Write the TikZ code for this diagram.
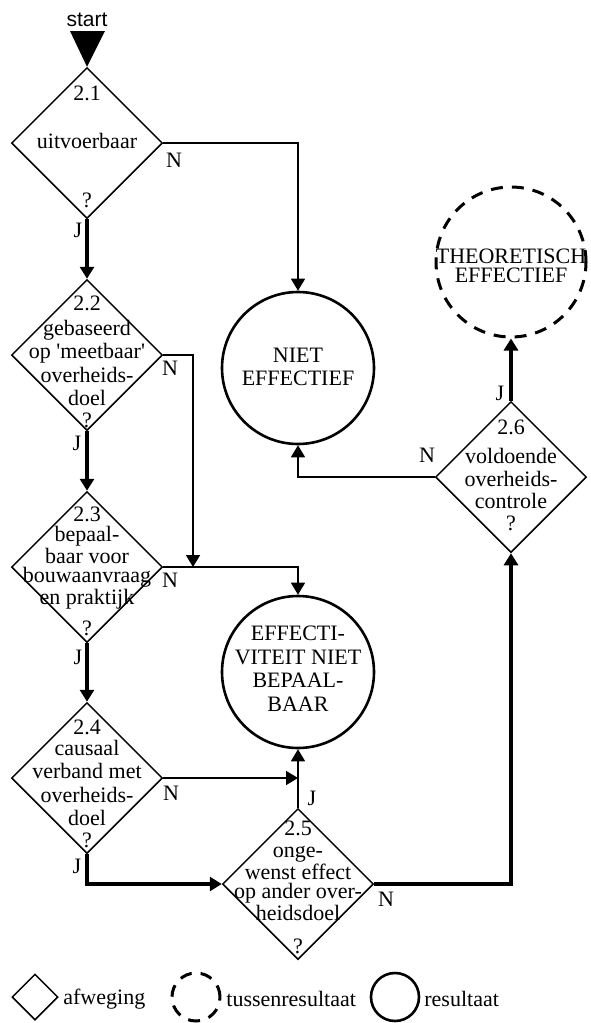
\documentclass[tikz,border=0pt]{standalone}
\usepackage{fontspec}
\setmainfont{Liberation Serif}
\newfontfamily\startfont{Liberation Sans}
\usetikzlibrary{arrows.meta,shapes.geometric,positioning}
\definecolor{ink}{HTML}{000000}

\begin{document}
\begin{tikzpicture}[x=.5pt,y=-.5pt,
  txt/.style={text=ink,font=\fontsize{11}{11.75}\selectfont,align=center,inner sep=0pt},
  block/.style={txt,execute at begin node={\vphantom{Hb}},execute at end node={\vphantom{g}}},
  tight/.style={font=\fontsize{11}{9.5}\selectfont},
  lbl/.style={text=ink,font=\fontsize{11}{12}\selectfont,inner sep=0pt},
  keuze/.style={shape=diamond,draw=ink,line width=.75pt,minimum width=75.5pt,
    minimum height=75.5pt,inner sep=0pt},
  eind/.style={shape=circle,draw=ink,line width=1.3pt,minimum size=76pt,inner sep=0pt},
  tussen/.style={shape=circle,draw=ink,line width=1.5pt,dash pattern=on 6pt off 4.5pt,
    minimum size=75pt,inner sep=0pt},
  nee/.style={draw=ink,line width=.85pt,-{Triangle[length=6pt,width=7pt]}},
  ja/.style={draw=ink,line width=2pt,-{Triangle[length=6pt,width=7pt]}}
]
\useasboundingbox (0,0) rectangle (590,1023);
% afwegingen
\node[keuze] (d21) at (87,143) {};
\node[keuze] (d22) at (87,355) {};
\node[keuze] (d23) at (87,567) {};
\node[keuze] (d24) at (87,778) {};
\node[keuze] (d25) at (298,884) {};
\node[keuze] (d26) at (511,477) {};
% resultaten
\node[eind] (rNiet) at (298,368) {};
\node[eind] (rBepaal) at (298,672) {};
\node[tussen] (rTheo) at (511,262) {};
% start
\node[text=ink,font=\startfont\fontsize{10.5}{12}\selectfont,inner sep=0pt] (start) at (87,20) {start};
\fill[ink] (70,31) -- (105,31) -- (d21.north) -- cycle;
% teksten in de ruiten
\node[txt] (n21) at (87,93) {2.1};
\node[block] (t21) at (87,143) {uitvoerbaar};
\node[txt] (q21) at (87,200) {?};
\node[txt] (n22) at (87,303) {2.2};
\node[block] (t22) at (87,365) {gebaseerd\\op \textquotesingle meetbaar\textquotesingle\\overheids-\\doel};
\node[txt] (q22) at (87,420) {?};
\node[txt] (n23) at (87,514) {2.3};
\node[block,tight] (t23) at (87,568) {bepaal-\\baar voor\\bouwaanvraag\\en praktijk};
\node[txt] (q23) at (87,628) {?};
\node[txt] (n24) at (87,727) {2.4};
\node[block] (t24) at (87,785) {causaal\\verband met\\overheids-\\doel};
\node[txt] (q24) at (87,840) {?};
\node[txt] (n25) at (298,828) {2.5};
\node[block,tight] (t25) at (298,886) {onge-\\wenst effect\\op ander over-\\heidsdoel};
\node[txt] (q25) at (298,946) {?};
\node[txt] (n26) at (511,427) {2.6};
\node[block,font=\fontsize{11}{11.3}\selectfont] (t26) at (511,481) {voldoende\\overheids-\\controle};
\node[txt] (q26) at (511,523) {?};
% teksten in de cirkels
\node[block] (tNiet) at (298,369) {NIET\\EFFECTIEF};
\node[block] (tBepaal) at (298,671) {EFFECTI-\\VITEIT NIET\\BEPAAL-\\BAAR};
\node[block,tight] (tTheo) at (511,268) {THEORETISCH\\EFFECTIEF};
% ja-takken
\draw[ja] (d21.south) -- (d22.north);
\draw[ja] (d22.south) -- (d23.north);
\draw[ja] (d23.south) -- (d24.north);
\draw[ja] (d24.south) |- (d25.west);
\draw[ja] (d25.east) -| (d26.south);
\draw[ja] (d26.north) -- (rTheo.south);
% nee-takken
\coordinate (m23) at (193,567);
\coordinate (m45) at (298,778);
\draw[nee] (d21.east) -| (rNiet.north);
\draw[nee] (d22.east) -| (m23);
\draw[nee] (d23.east) -| (rBepaal.north);
\draw[nee] (d24.east) -- (m45);
\draw[nee] (d25.north) -- (rBepaal.south);
\draw[nee] (d26.west) -| (rNiet.south);
% J en N
\node[lbl] (j21) at (78,230) {J};
\node[lbl] (j22) at (77,443) {J};
\node[lbl] (j23) at (78,657) {J};
\node[lbl] (j24) at (77,866) {J};
\node[lbl] (j25) at (312,798) {J};
\node[lbl] (j26) at (500,393) {J};
\node[lbl] (e21) at (174,160) {N};
\node[lbl] (e22) at (170,368) {N};
\node[lbl] (e23) at (170,580) {N};
\node[lbl] (e24) at (171,793) {N};
\node[lbl] (e25) at (386,899) {N};
\node[lbl] (e26) at (427,455) {N};
% legenda
\node[keuze,minimum width=23pt,minimum height=23pt] (lgKeuze) at (35,997) {};
\node[lbl,anchor=west] (lgKeuzeTxt) at (63,999) {afweging};
\node[tussen,minimum size=24pt] (lgTussen) at (196,997) {};
\node[lbl,anchor=west] (lgTussenTxt) at (226,999) {tussenresultaat};
\node[eind,minimum size=24pt] (lgEind) at (395,997) {};
\node[lbl,anchor=west] (lgEindTxt) at (424,999) {resultaat};
\end{tikzpicture}
\end{document}
